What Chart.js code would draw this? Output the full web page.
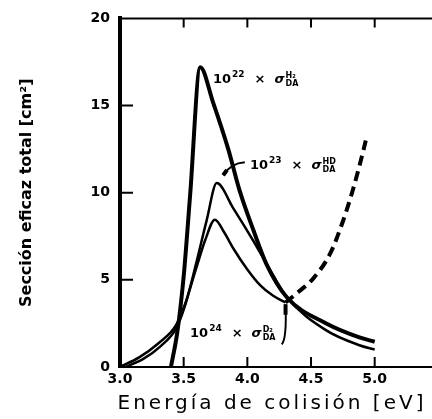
<!DOCTYPE html>
<html>
<head>
<meta charset="utf-8">
<script src="https://cdn.jsdelivr.net/npm/chart.js@4.4.1/dist/chart.umd.min.js"></script>
<style>
  body { margin: 0; background: #fff; }
  canvas { display: block; }
</style>
</head>
<body>
<canvas id="chart" width="432" height="419"></canvas>
<script>
// values (collision energy in eV, scaled cross section)
const h2Energy = [3.4, 3.45, 3.5, 3.55, 3.63, 3.73, 3.85, 3.94, 4.05, 4.15, 4.31, 4.62, 4.88, 5.0];
const h2Sigma  = [0, 2.0, 5.2, 9.8, 17.2, 15.2, 12.5, 10.1, 7.8, 5.9, 4.0, 2.5, 1.7, 1.45];

const hdEnergy = [3.04, 3.18, 3.32, 3.44, 3.51, 3.6, 3.68, 3.76, 3.89, 4.05, 4.2, 4.31, 4.62, 4.88, 5.0];
const hdSigma  = [0, 0.45, 1.2, 2.2, 3.5, 6.0, 8.4, 10.55, 9.1, 7.2, 5.3, 4.0, 2.1, 1.25, 1.0];

const d2Energy = [3.0, 3.15, 3.3, 3.44, 3.51, 3.6, 3.67, 3.745, 3.82, 3.89, 4.0, 4.1, 4.2, 4.3];
const d2Sigma  = [0, 0.55, 1.35, 2.4, 3.6, 5.7, 7.3, 8.45, 7.7, 6.8, 5.6, 4.7, 4.1, 3.7];

// dashed continuation of the D2 curve
const d2ExtEnergy = [4.3, 4.4, 4.52, 4.65, 4.75, 4.83, 4.9, 4.93];
const d2ExtSigma  = [3.7, 4.3, 5.1, 6.5, 8.35, 10.2, 12.1, 13.0];

const xTicks = [3.0, 3.5, 4.0, 4.5, 5.0];
const yTicks = [0, 5, 10, 15, 20];
const xTitle = "Energía de colisión [eV]";
const yTitle = "Sección eficaz total [cm²]";

// label anchors (energy, sigma) at the baseline of "10"
const labels = [
    { x: 3.73, y: 16.3, exp: "22", sup: "H\u2082", sub: "DA" },
    { x: 4.02, y: 11.36, exp: "23", sup: "HD", sub: "DA" },
    { x: 3.55, y: 1.7, exp: "24", sup: "D\u2082", sub: "DA" }
];

function toPoints(xs, ys) {
    return xs.map((x, i) => ({ x: x, y: ys[i] }));
}

const FONT = '"DejaVu Sans", sans-serif';

function drawSigmaLabel(ctx, x, y, l) {
    ctx.fillStyle = "#000";
    ctx.textAlign = "left";
    ctx.textBaseline = "alphabetic";
    ctx.font = "bold 13px " + FONT;
    ctx.fillText("10", x, y);
    let cx = x + ctx.measureText("10").width + 1;
    ctx.font = "bold 9px " + FONT;
    ctx.fillText(l.exp, cx, y - 6);
    cx += ctx.measureText(l.exp).width + 10;
    ctx.font = "bold 13px " + FONT;
    ctx.fillText("\u00d7", cx, y);
    cx += ctx.measureText("\u00d7").width + 9;
    ctx.font = "italic bold 13px " + FONT;
    ctx.fillText("\u03c3", cx, y);
    cx += ctx.measureText("\u03c3").width + 1;
    ctx.font = "bold 8px " + FONT;
    ctx.fillText(l.sup, cx, y - 5);
    ctx.fillText(l.sub, cx, y + 3);
}

const frame = {
    id: "frame",
    afterDraw(chart) {
        const ctx = chart.ctx;
        const xs = chart.scales.x, ys = chart.scales.y;
        const a = chart.chartArea;
        ctx.save();
        ctx.strokeStyle = "#000";
        ctx.lineWidth = 2;
        ctx.beginPath();
        // top border
        ctx.moveTo(a.left, a.top);
        ctx.lineTo(a.right, a.top);
        // inward ticks
        [5, 10, 15].forEach(v => {
            const py = ys.getPixelForValue(v);
            ctx.moveTo(a.left, py);
            ctx.lineTo(a.left + 13, py);
        });
        [3.5, 4.0, 4.5, 5.0].forEach(v => {
            const px = xs.getPixelForValue(v);
            ctx.moveTo(px, a.bottom);
            ctx.lineTo(px, a.bottom - 10);
            ctx.moveTo(px, a.top);
            ctx.lineTo(px, a.top + 9);
        });
        ctx.stroke();

        // leader lines to the HD and D2 curves
        ctx.lineWidth = 2;
        ctx.beginPath();
        ctx.moveTo(xs.getPixelForValue(3.81), ys.getPixelForValue(11.0));
        ctx.quadraticCurveTo(xs.getPixelForValue(3.87), ys.getPixelForValue(11.7),
                             xs.getPixelForValue(3.98), ys.getPixelForValue(11.75));
        ctx.moveTo(xs.getPixelForValue(4.27), ys.getPixelForValue(1.3));
        ctx.quadraticCurveTo(xs.getPixelForValue(4.31), ys.getPixelForValue(1.6),
                             xs.getPixelForValue(4.3), ys.getPixelForValue(3.6));
        ctx.stroke();
        ctx.lineWidth = 4;
        ctx.beginPath();
        ctx.moveTo(xs.getPixelForValue(4.3), ys.getPixelForValue(3.0));
        ctx.lineTo(xs.getPixelForValue(4.3), ys.getPixelForValue(3.6));
        ctx.moveTo(xs.getPixelForValue(3.81), ys.getPixelForValue(11.0));
        ctx.lineTo(xs.getPixelForValue(3.84), ys.getPixelForValue(11.3));
        ctx.stroke();

        labels.forEach(l => drawSigmaLabel(ctx, xs.getPixelForValue(l.x), ys.getPixelForValue(l.y), l));

        // x axis title, spaced out like the hand lettering of the original
        ctx.fillStyle = "#000";
        ctx.font = "20px " + FONT;
        ctx.letterSpacing = "3px";
        ctx.textAlign = "center";
        ctx.textBaseline = "middle";
        ctx.fillText(xTitle, 272, 404);
        ctx.restore();
    }
};

function line(xs, ys, width, dash) {
    return {
        data: toPoints(xs, ys),
        borderColor: "#000",
        borderWidth: width,
        borderDash: dash || [],
        borderJoinStyle: "round",
        pointRadius: 0,
        fill: false,
        cubicInterpolationMode: "monotone"
    };
}

new Chart(document.getElementById("chart"), {
    type: "line",
    data: {
        datasets: [
            line(h2Energy, h2Sigma, 4),
            line(hdEnergy, hdSigma, 2.5),
            line(d2Energy, d2Sigma, 2.5),
            line(d2ExtEnergy, d2ExtSigma, 4, [10, 6])
        ]
    },
    options: {
        responsive: false,
        animation: false,
        layout: { padding: { top: 13, right: 0, left: 0, bottom: 0 } },
        plugins: { legend: { display: false }, tooltip: { enabled: false } },
        scales: {
            x: {
                type: "linear",
                min: 3.0,
                max: 5.45,
                grid: { display: false, drawTicks: false },
                border: { display: true, color: "#000", width: 2 },
                afterBuildTicks: s => { s.ticks = xTicks.map(v => ({ value: v })); },
                afterFit: s => { s.height = 52; },
                ticks: {
                    color: "#000",
                    padding: 4,
                    maxRotation: 0,
                    font: { family: FONT, size: 14, weight: "bold" },
                    callback: v => v.toFixed(1)
                }
            },
            y: {
                min: 0,
                max: 20,
                grid: { display: false, drawTicks: false },
                border: { display: true, color: "#000", width: 4 },
                afterBuildTicks: s => { s.ticks = yTicks.map(v => ({ value: v })); },
                afterFit: s => { s.width = 120; },
                ticks: {
                    color: "#000",
                    padding: 10,
                    font: { family: FONT, size: 14, weight: "bold" }
                },
                title: {
                    display: true,
                    text: yTitle,
                    color: "#000",
                    padding: { top: 17, bottom: 0 },
                    font: { family: FONT, size: 16, weight: "bold" }
                }
            }
        }
    },
    plugins: [frame]
});
</script>
</body>
</html>
